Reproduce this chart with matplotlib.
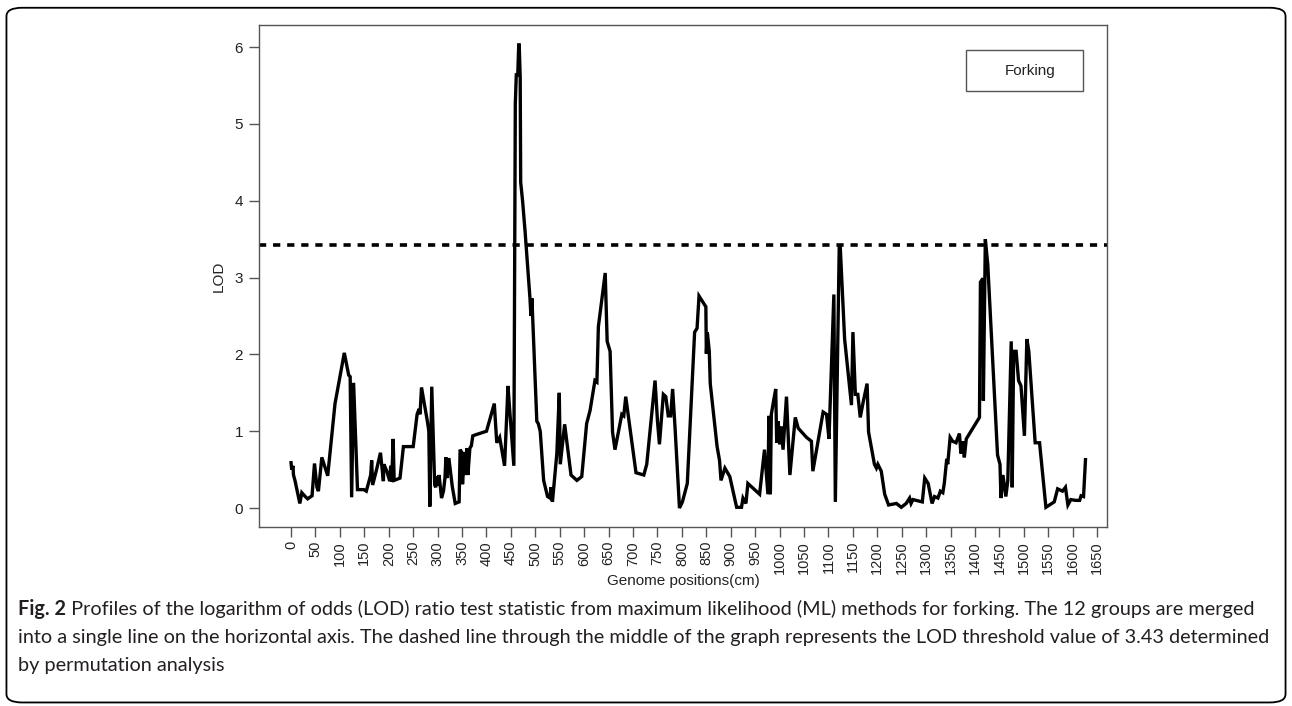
import numpy as np
import matplotlib.pyplot as plt
from matplotlib.patches import FancyBboxPatch, Rectangle

# LOD profile (position in cM, LOD)
pos = [0, 1.4, 4, 5, 8, 18, 22, 29, 34, 43, 48, 53, 56, 63, 75, 90, 109, 118, 121,
       124, 128, 136, 149, 154, 163, 165, 167, 175, 183, 189, 190, 196, 202, 204, 206,
       209, 211, 223, 230, 250, 258, 262, 264, 267, 279, 282, 284, 288, 294, 296, 299,
       301, 303, 308, 312, 315, 317, 319, 323, 330, 336, 344, 346, 349, 351, 355, 357,
       360, 362, 366, 369, 372, 376, 400, 416, 421, 427, 437, 444, 447, 456, 459, 461,
       464, 466, 467, 469, 470, 474, 479, 489, 491, 493, 503, 506, 510, 517, 525, 530,
       532, 535, 544, 549, 551, 560, 573, 585, 595, 605, 612, 622, 626, 629, 643, 647,
       653, 658, 663, 677, 681, 685, 706, 722, 728, 745, 750, 754, 762, 767, 772, 777,
       781, 786, 795, 801, 811, 826, 831, 835, 849, 850, 852, 856, 858, 872, 877, 880,
       888, 898, 912, 922, 925, 931, 935, 959, 969, 976, 978, 981, 983, 988, 992, 994,
       997, 1000, 1003, 1007, 1014, 1021, 1032, 1038, 1055, 1065, 1068, 1089, 1096,
       1101, 1111, 1114, 1122, 1124, 1133, 1147, 1150, 1155, 1160, 1165, 1171, 1179,
       1182, 1194, 1198, 1201, 1208, 1215, 1223, 1239, 1249, 1259, 1266, 1269, 1273,
       1292, 1297, 1304, 1312, 1317, 1324, 1329, 1334, 1337, 1342, 1344, 1349, 1354,
       1361, 1368, 1371, 1375, 1378, 1382, 1409, 1411, 1416, 1417, 1421, 1426, 1446,
       1451, 1453, 1457, 1463, 1467, 1474, 1476, 1479, 1484, 1489, 1494, 1501, 1506,
       1510, 1523, 1532, 1545, 1562, 1569, 1579, 1585, 1590, 1596, 1606, 1614, 1617,
       1622, 1626]
lod = [0.59, 0.50, 0.55, 0.43, 0.36, 0.06, 0.20, 0.15, 0.12, 0.16, 0.58, 0.27, 0.22,
       0.66, 0.42, 1.36, 2.02, 1.73, 1.71, 0.14, 1.63, 0.24, 0.24, 0.22, 0.43, 0.62,
       0.30, 0.50, 0.72, 0.35, 0.57, 0.48, 0.35, 0.55, 0.34, 0.90, 0.36, 0.39, 0.80,
       0.80, 1.22, 1.29, 1.22, 1.57, 1.13, 1.00, 0.02, 1.58, 0.30, 0.27, 0.41, 0.29,
       0.43, 0.13, 0.22, 0.39, 0.66, 0.39, 0.65, 0.28, 0.06, 0.08, 0.76, 0.73, 0.31,
       0.73, 0.43, 0.78, 0.43, 0.78, 0.81, 0.94, 0.95, 1.00, 1.36, 0.85, 0.92, 0.55,
       1.59, 1.32, 0.55, 5.26, 5.64, 5.64, 6.03, 6.03, 5.61, 4.24, 3.99, 3.60, 2.73,
       2.50, 2.73, 1.13, 1.10, 1.00, 0.36, 0.15, 0.13, 0.27, 0.08, 0.71, 1.50, 0.57,
       1.09, 0.43, 0.36, 0.41, 1.10, 1.27, 1.66, 1.64, 2.36, 3.06, 2.17, 2.04, 0.99,
       0.76, 1.22, 1.20, 1.45, 0.46, 0.43, 0.57, 1.66, 1.13, 0.83, 1.48, 1.45, 1.20,
       1.20, 1.55, 1.04, 0.00, 0.08, 0.32, 2.29, 2.34, 2.76, 2.62, 2.01, 2.29, 2.04,
       1.62, 0.80, 0.62, 0.36, 0.52, 0.41, 0.01, 0.01, 0.13, 0.06, 0.32, 0.18, 0.76,
       0.18, 1.20, 0.18, 1.22, 1.41, 1.55, 0.85, 1.13, 0.83, 1.06, 0.76, 1.45, 0.43,
       1.18, 1.04, 0.92, 0.87, 0.48, 1.25, 1.22, 0.90, 2.78, 0.08, 3.41, 3.41, 2.20,
       1.34, 2.29, 1.48, 1.48, 1.18, 1.38, 1.62, 0.99, 0.57, 0.52, 0.57, 0.48, 0.18,
       0.04, 0.06, 0.01, 0.06, 0.13, 0.06, 0.11, 0.08, 0.39, 0.32, 0.06, 0.15, 0.13,
       0.22, 0.20, 0.32, 0.64, 0.57, 0.92, 0.87, 0.85, 0.97, 0.71, 0.87, 0.66, 0.90,
       1.18, 2.94, 2.99, 1.40, 3.50, 3.17, 0.69, 0.57, 0.13, 0.43, 0.15, 0.36, 2.17,
       0.27, 2.04, 2.04, 1.66, 1.59, 0.94, 2.20, 2.04, 0.85, 0.85, 0.01, 0.08, 0.25,
       0.22, 0.27, 0.04, 0.11, 0.10, 0.10, 0.16, 0.15, 0.63]
threshold = 3.43
xticks = list(range(0, 1651, 50))
yticks = [0, 1, 2, 3, 4, 5, 6]

caption_bold = "Fig. 2"
caption_lines = [
    " Profiles of the logarithm of odds (LOD) ratio test statistic from maximum likelihood (ML) methods for forking. The 12 groups are merged",
    "into a single line on the horizontal axis. The dashed line through the middle of the graph represents the LOD threshold value of 3.43 determined",
    "by permutation analysis",
]

plt.rcParams['font.family'] = ['Liberation Sans', 'DejaVu Sans']

fig = plt.figure(figsize=(12.92, 7.06), dpi=100)
ax = fig.add_axes([0.2005, 0.2535, 0.6563, 0.711])

ax.plot(pos, lod, color='black', lw=2.4, solid_joinstyle='miter')
ax.axhline(threshold, color='black', lw=2.6, linestyle=(0, (2.0, 1.9)))

ax.set_xlim(-65.5, 1670)
ax.set_ylim(-0.247, 6.287)
ax.set_xticks(xticks)
ax.set_xticklabels([str(t) for t in xticks], rotation=90, fontsize=10.5, color='#222222')
ax.set_yticks(yticks)
ax.set_yticklabels([str(t) for t in yticks], fontsize=11, color='#222222')
ax.tick_params(direction='out', length=7.5, width=1, color='#555555')
ax.tick_params(axis='x', pad=2.5)
ax.tick_params(axis='y', pad=4)
for s in ax.spines.values():
    s.set_color('#555555')
    s.set_linewidth(1)

ax.set_ylabel('LOD', fontsize=11, color='#222222', labelpad=6)
fig.text(683 / 1292, 1 - 581 / 706, 'Genome positions(cm)', fontsize=11,
         color='#222222', ha='center', va='center')

# legend box with text only
ax.add_patch(Rectangle((0.834, 0.869), 0.138, 0.081, transform=ax.transAxes,
                       fill=False, edgecolor='#555555', lw=1))
ax.text(0.909, 0.909, 'Forking', transform=ax.transAxes, ha='center', va='center',
        fontsize=11, color='#222222')

# outer frame
frame = FancyBboxPatch((0.005, 0.005), 0.99, 0.984, transform=fig.transFigure,
                       boxstyle='round,pad=0,rounding_size=0.012', fill=False,
                       edgecolor='black', lw=1.3)
fig.patches.append(frame)

# caption
cap_font = ['Lato', 'DejaVu Sans']
cap_size = 14.3
y0 = 1 - 609 / 706
t = fig.text(0.014, y0, caption_bold, fontsize=cap_size, fontweight='bold',
             family=cap_font, va='center', ha='left', color='#231f20')
fig.canvas.draw()
bb = t.get_window_extent()
x_after = bb.x1 / fig.bbox.width
fig.text(x_after, y0, caption_lines[0], fontsize=cap_size, family=cap_font,
         va='center', ha='left', color='#231f20')
fig.text(0.014, 1 - 637 / 706, caption_lines[1], fontsize=cap_size, family=cap_font,
         va='center', ha='left', color='#231f20')
fig.text(0.014, 1 - 665 / 706, caption_lines[2], fontsize=cap_size, family=cap_font,
         va='center', ha='left', color='#231f20')

fig.savefig('out.png', dpi=100)
